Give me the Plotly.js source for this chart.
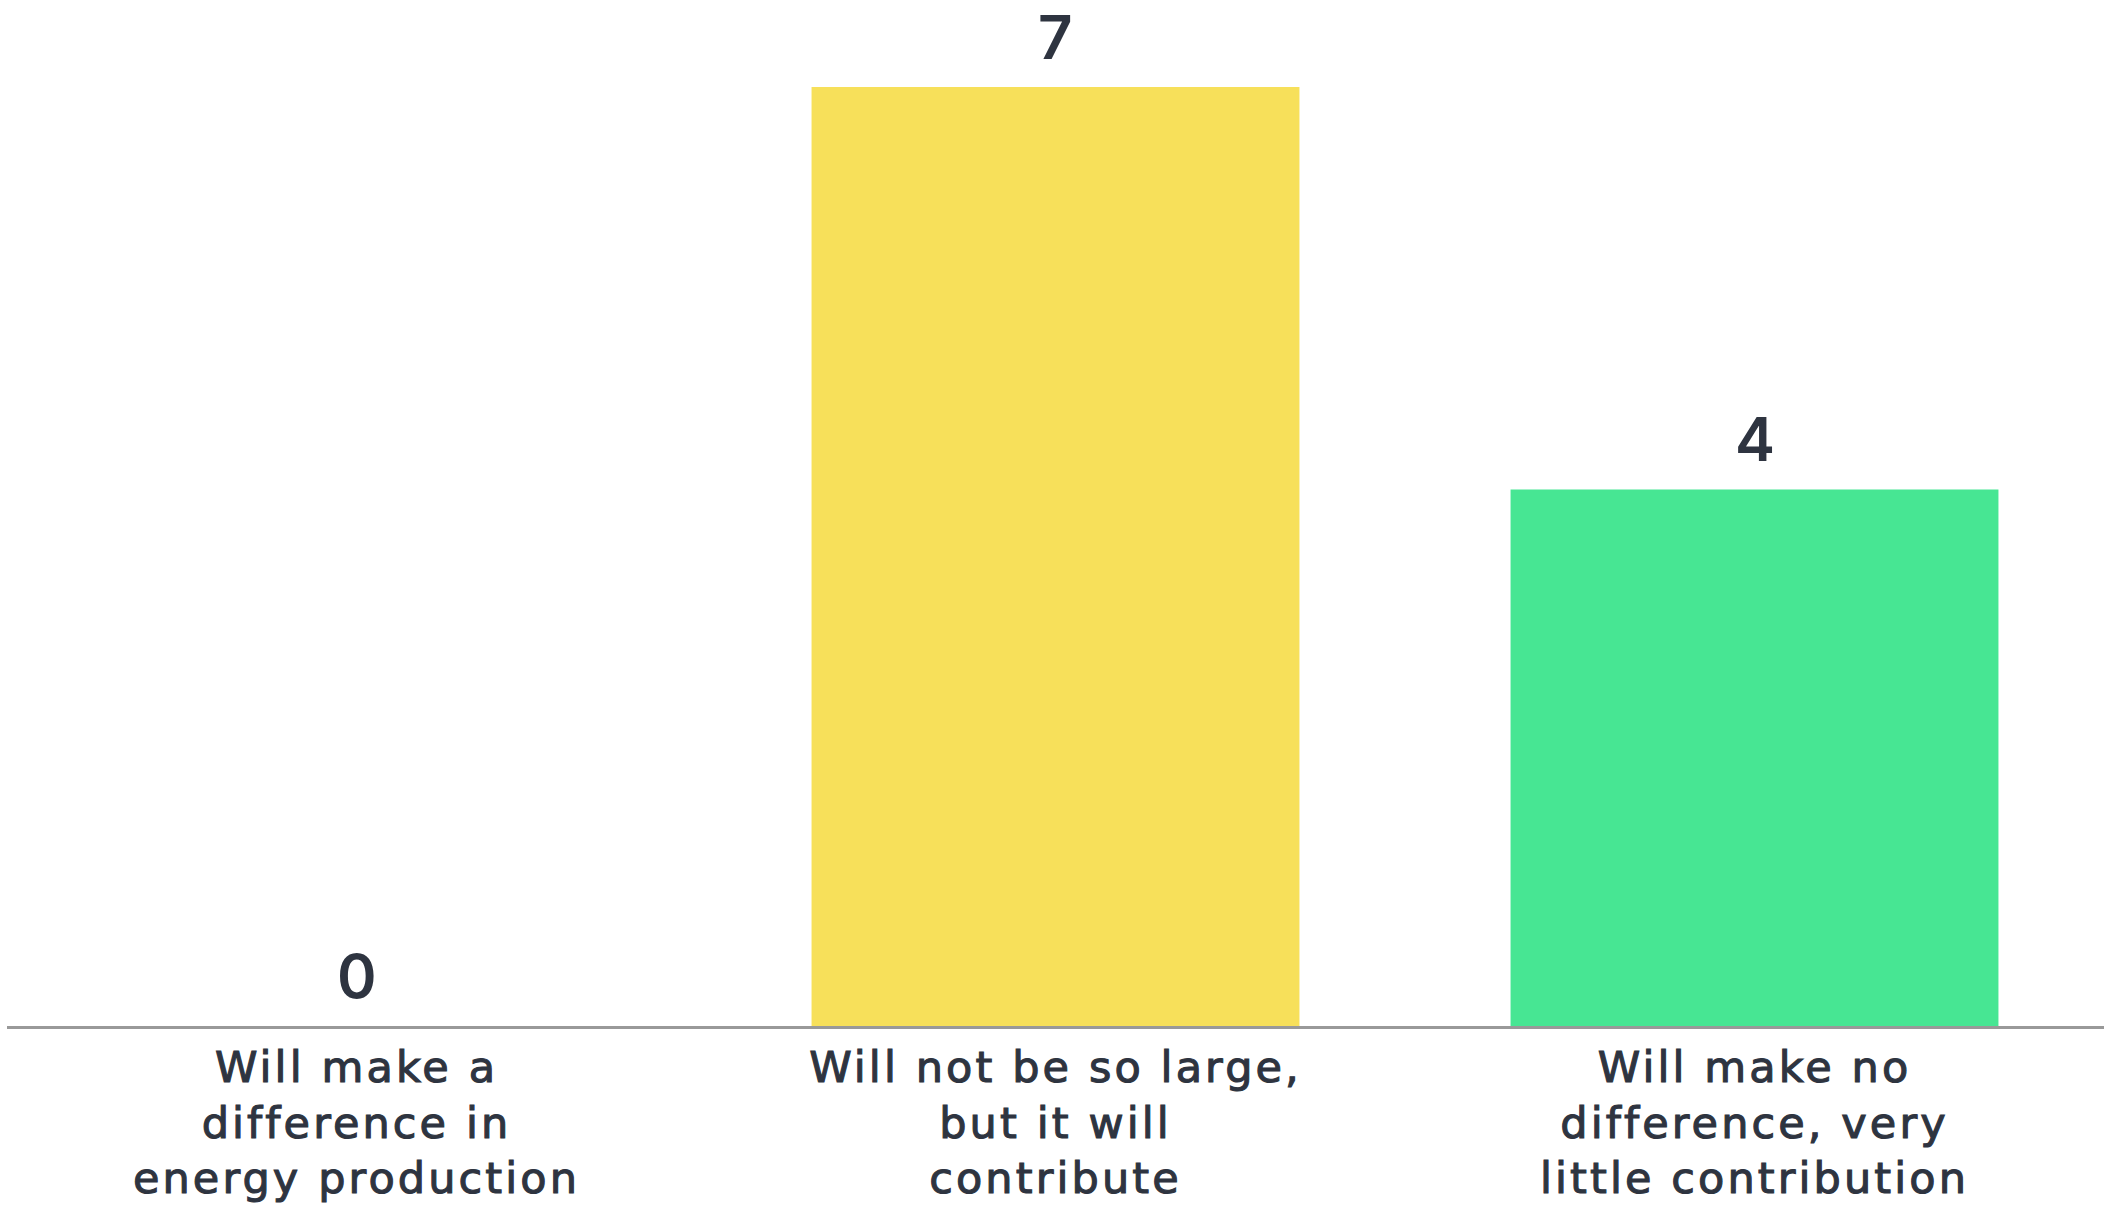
<!DOCTYPE html>
<html>
<head>
<meta charset="utf-8">
<script src="https://cdn.plot.ly/plotly-3.0.1.min.js"></script>
<style>
html,body{margin:0;padding:0;background:#fff;}
#chart{width:2108px;height:1205px;}
#chart .xtick text{letter-spacing:3.1px; stroke:#2E3440; stroke-width:1.1px;}
</style>
</head>
<body>
<div id="chart"></div>
<script>
const categories = [
  "Will make a<br>difference in<br>energy production",
  "Will not be so large,<br>but it will<br>contribute",
  "Will make no<br>difference, very<br>little contribution"
];
const values = [0, 7, 4];
const barColors = ["#5B8DEF", "#F7E05A", "#47E693"];
const textColor = "#2E3440";
const labelFont = "'DejaVu Sans', Inter, sans-serif";
const numberFont = "Inter, 'Open Sans', sans-serif";

const trace = {
  type: "bar",
  x: categories,
  y: values,
  marker: {color: barColors},
  hoverinfo: "none"
};

const annotations = categories.map((c, i) => ({
  x: c, y: values[i], xref: "x", yref: "y",
  text: String(values[i]),
  showarrow: false, yanchor: "bottom", yshift: 12,
  font: {family: numberFont, size: 60, color: textColor, weight: 600}
}));

const layout = {
  width: 2108, height: 1205,
  margin: {l: 7, r: 4, t: 0, b: 179},
  paper_bgcolor: "#ffffff", plot_bgcolor: "#ffffff",
  bargap: 0.302,
  showlegend: false,
  xaxis: {
    type: "category",
    showline: true, linecolor: "#999999", linewidth: 3,
    showgrid: false, zeroline: false,
    ticks: "", ticklabelstandoff: 1,
    tickfont: {family: labelFont, size: 43, color: textColor}
  },
  yaxis: {
    range: [0, 7.649],
    showgrid: false, zeroline: false, showticklabels: false, showline: false
  },
  annotations: annotations
};

Plotly.newPlot("chart", [trace], layout, {displayModeBar: false, staticPlot: true});
</script>
</body>
</html>
